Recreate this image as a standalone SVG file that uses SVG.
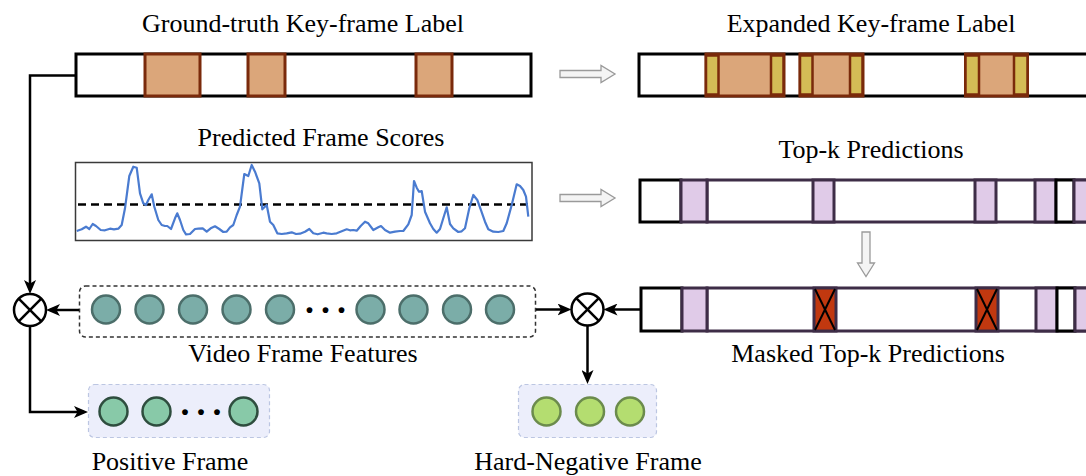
<svg xmlns="http://www.w3.org/2000/svg" width="1086" height="476" viewBox="0 0 1086 476">
  <style>
    .lbl { font-family: "Liberation Serif", "Times New Roman", serif; font-size: 26px; fill: #000; text-anchor: middle; }
    .dots { font-family: "Liberation Serif", "Times New Roman", serif; font-size: 36px; font-weight: bold; fill: #000; letter-spacing: 7px; }
    .bar { fill: #fff; stroke: #000; stroke-width: 3; }
    .key { fill: #DBA67A; stroke: #7A2A0B; stroke-width: 3; }
    .ext { fill: #D4BC56; stroke: #7A2A0B; stroke-width: 2.5; }
    .pcell { fill: #E0CBE8; stroke: #3E2D47; stroke-width: 3; }
    .wcell { fill: #fff; stroke: #3E2D47; stroke-width: 3; }
    .bcell { fill: #fff; stroke: #000; stroke-width: 3; }
    .mask { fill: #C1380F; stroke: #3E2D47; stroke-width: 3; }
    .cross { stroke: #000; stroke-width: 2; }
    .hollow { fill: #F4F4F4; stroke: #9A9A9A; stroke-width: 1.3; }
    .wire { fill: none; stroke: #000; stroke-width: 2.5; }
    .arrow { fill: none; stroke: #000; stroke-width: 2.5; marker-end: url(#tip); }
    .mult { fill: #fff; stroke: #000; stroke-width: 2.5; }
    .feat { fill: #7BADA8; stroke: #4C6E6A; stroke-width: 2.5; }
    .pos { fill: #88C9A8; stroke: #2E4D3E; stroke-width: 2.5; }
    .neg { fill: #B4DD70; stroke: #6B8B4C; stroke-width: 2.5; }
    .pool { fill: #ECEEFB; stroke: #BCC6E2; stroke-width: 1.2; stroke-dasharray: 4 3; }
  </style>
  <defs>
    <marker id="tip" markerUnits="userSpaceOnUse" markerWidth="14" markerHeight="12" refX="10" refY="6" orient="auto">
      <path d="M0,0 L14,6 L0,12 L3.5,6 Z" fill="#000"/>
    </marker>
    <g id="otimes">
      <circle r="16" class="mult"/>
      <line x1="-11.3" y1="-11.3" x2="11.3" y2="11.3" class="wire"/>
      <line x1="-11.3" y1="11.3" x2="11.3" y2="-11.3" class="wire"/>
    </g>
  </defs>

  <!-- ground-truth key-frame label -->
  <g id="gt-label">
    <text class="lbl" x="303" y="32">Ground-truth Key-frame Label</text>
    <rect class="bar" x="76" y="54" width="455" height="42"/>
    <rect class="key" x="145" y="54" width="55" height="42"/>
    <rect class="key" x="248" y="54" width="37" height="42"/>
    <rect class="key" x="416" y="54" width="36" height="42"/>
  </g>

  <!-- expanded key-frame label -->
  <g id="expanded-label">
    <text class="lbl" x="871" y="32">Expanded Key-frame Label</text>
    <rect class="bar" x="639" y="54" width="470" height="42"/>
    <rect class="key" x="706" y="54" width="78" height="42"/>
    <rect class="ext" x="706" y="55.5" width="12.5" height="39"/>
    <rect class="ext" x="771" y="55.5" width="12.5" height="39"/>
    <rect class="key" x="800" y="54" width="63" height="42"/>
    <rect class="ext" x="800" y="55.5" width="12.5" height="39"/>
    <rect class="ext" x="850" y="55.5" width="12.5" height="39"/>
    <rect class="key" x="965.5" y="54" width="62" height="42"/>
    <rect class="ext" x="965.5" y="55.5" width="13.5" height="39"/>
    <rect class="ext" x="1014" y="55.5" width="13.5" height="39"/>
  </g>

  <!-- predicted frame scores -->
  <g id="frame-scores">
    <text class="lbl" x="321" y="146">Predicted Frame Scores</text>
    <rect x="75.5" y="162.5" width="456.5" height="78" fill="#fff" stroke="#3A3A3A" stroke-width="1.5"/>
    <line x1="78" y1="204.5" x2="531" y2="204.5" stroke="#000" stroke-width="2.5" stroke-dasharray="8 5"/>
    <polyline fill="none" stroke="#4A7BD0" stroke-width="2.2" stroke-linejoin="round" points="76.7,231 81.7,229.3 86,226.7 89.3,229 92.7,224 96,226 100.7,230 105,230.3 110,228.7 114,229.3 118.3,228.7 121.7,225 125,208.3 129.3,176 133.3,166.7 136.7,167.7 140,193.3 143.3,203.3 146,205 148.3,200 151.7,194.3 154.3,206.7 158.3,220 161.7,225 165,226 167.3,226 171,229 175,218.3 177.3,213.3 180,220 183.3,230 186,234.3 190,234 195,229 198.3,228.7 202.7,228.3 206.7,231.7 210.7,228.3 215,226.3 219.3,229 223.3,232 226.7,231.7 230,227.3 233.3,225 236.7,215 240,206.7 244.3,174 248.3,176 251.7,165 255,171.7 259.3,183.3 262.3,209.3 266.7,205 270,221.7 273.3,225 277.3,233.3 281.7,234 286.7,233.3 291.7,232.3 296,234 300,233.7 305,231.7 309.3,229 313.3,233.3 317.7,234.3 323.3,232.7 326.7,233.3 331.7,234 336.7,233.3 341.7,231.3 346.7,229.3 350,230.3 353.3,230 356.7,230.7 360.7,226 365,221.7 368.3,223.3 373.3,230 378.3,227.3 381,226 385,230 390,232.7 395,231.7 400,231 403.3,231 408.3,224.3 411.7,215 414,181 416.7,187.7 419,191.7 421.7,191 425,211.7 430,223.3 433.3,229 436.7,232.7 440,229 443.3,218.3 446.7,207.3 450,224 453.3,228.3 458.3,232 461.7,231.3 465,228.3 469.3,208.3 473.3,195 477.3,200 480.7,209.3 485,221.7 488.3,229.3 493.3,231.7 498.3,232 503.3,231 506.7,223.3 511.7,205 516.7,184.3 520,186 523.3,190 526,196.7 528.3,216.7"/>
  </g>

  <!-- top-k predictions -->
  <g id="topk">
    <text class="lbl" x="871" y="158">Top-k Predictions</text>
    <rect class="wcell" x="707" y="180" width="400" height="42"/>
    <rect class="bcell" x="640" y="180" width="41" height="42"/>
    <rect class="pcell" x="681" y="180" width="26" height="42"/>
    <rect class="pcell" x="813" y="180" width="21" height="42"/>
    <rect class="pcell" x="975" y="180" width="21" height="42"/>
    <rect class="pcell" x="1035" y="180" width="21" height="42"/>
    <rect class="bcell" x="1056" y="180" width="18" height="42"/>
    <rect class="pcell" x="1074" y="180" width="30" height="42"/>
  </g>

  <!-- masked top-k predictions -->
  <g id="masked-topk">
    <text class="lbl" x="868" y="362">Masked Top-k Predictions</text>
    <rect class="wcell" x="707" y="288" width="400" height="43"/>
    <rect class="bcell" x="641" y="288" width="41" height="43"/>
    <rect class="pcell" x="682" y="288" width="25" height="43"/>
    <rect class="mask" x="814" y="288" width="22" height="43"/>
    <line class="cross" x1="815" y1="289" x2="835" y2="330"/>
    <line class="cross" x1="835" y1="289" x2="815" y2="330"/>
    <rect class="mask" x="976" y="288" width="22" height="43"/>
    <line class="cross" x1="977" y1="289" x2="997" y2="330"/>
    <line class="cross" x1="997" y1="289" x2="977" y2="330"/>
    <rect class="pcell" x="1036" y="288" width="21" height="43"/>
    <rect class="bcell" x="1057" y="288" width="18" height="43"/>
    <rect class="pcell" x="1075" y="288" width="30" height="43"/>
  </g>

  <!-- video frame features -->
  <g id="video-features">
    <rect x="79.5" y="286" width="456" height="51" rx="6" fill="none" stroke="#333" stroke-width="1.5" stroke-dasharray="4 3"/>
    <circle class="feat" cx="106" cy="309.5" r="14"/>
    <circle class="feat" cx="149.5" cy="309.5" r="14"/>
    <circle class="feat" cx="193" cy="309.5" r="14"/>
    <circle class="feat" cx="236.5" cy="309.5" r="14"/>
    <circle class="feat" cx="280" cy="309.5" r="14"/>
    <text class="dots" x="305" y="312.5">...</text>
    <circle class="feat" cx="370.5" cy="309.5" r="14"/>
    <circle class="feat" cx="413.5" cy="309.5" r="14"/>
    <circle class="feat" cx="457" cy="309.5" r="14"/>
    <circle class="feat" cx="500" cy="309.5" r="14"/>
    <text class="lbl" x="303" y="362">Video Frame Features</text>
  </g>

  <!-- positive frames -->
  <g id="positive-frame">
    <rect class="pool" x="88.5" y="384.5" width="181" height="53" rx="6"/>
    <circle class="pos" cx="113.5" cy="411.5" r="14"/>
    <circle class="pos" cx="156.5" cy="411.5" r="14"/>
    <text class="dots" x="180.5" y="414.5">...</text>
    <circle class="pos" cx="243.5" cy="411.5" r="14"/>
    <text class="lbl" x="170" y="470">Positive Frame</text>
  </g>

  <!-- hard-negative frames -->
  <g id="hard-negative-frame">
    <rect class="pool" x="518.5" y="384.5" width="138" height="53" rx="6"/>
    <circle class="neg" cx="546.5" cy="411.5" r="14"/>
    <circle class="neg" cx="590" cy="411.5" r="14"/>
    <circle class="neg" cx="630" cy="411.5" r="14"/>
    <text class="lbl" x="588" y="470">Hard-Negative Frame</text>
  </g>

  <!-- multiplication nodes -->
  <g id="mult-left"><use href="#otimes" x="30" y="310"/></g>
  <g id="mult-right"><use href="#otimes" x="587.5" y="309.5"/></g>

  <!-- connectors -->
  <g id="connectors">
    <polygon class="hollow" points="560,70.5 601,70.5 601,65.5 615,74 601,82.5 601,77.5 560,77.5"/>
    <polygon class="hollow" points="560,194.5 601,194.5 601,189.5 615,198 601,206.5 601,201.5 560,201.5"/>
    <polygon class="hollow" points="862,232 870,232 870,263 874.5,263 866,276.5 857.5,263 862,263"/>
    <polyline class="arrow" points="76,75.5 30,75.5 30,290"/>
    <line class="arrow" x1="79" y1="310" x2="50" y2="310"/>
    <polyline class="arrow" points="30,326 30,412 84,412"/>
    <line class="arrow" x1="536" y1="309.5" x2="567.5" y2="309.5"/>
    <line class="arrow" x1="641" y1="309.5" x2="607.5" y2="309.5"/>
    <line class="arrow" x1="587.5" y1="325.5" x2="587.5" y2="380"/>
  </g>
</svg>
